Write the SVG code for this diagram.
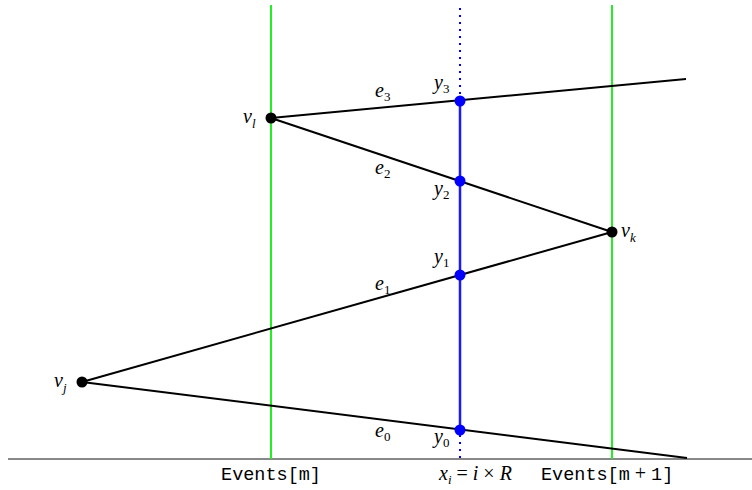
<svg xmlns="http://www.w3.org/2000/svg" width="752" height="490" viewBox="0 0 752 490">
<style>
.m{font-family:"Liberation Serif","DejaVu Serif",serif;font-style:italic;font-size:20px;fill:#000}
.s{font-size:13px;font-style:normal}
.si{font-size:13px;font-style:italic}
.mono{font-family:"Liberation Mono","DejaVu Sans Mono",monospace;font-size:18.5px;fill:#000}
.edge{stroke:#000;stroke-width:2;fill:none}
.ev{stroke:#22ee22;stroke-width:2}
</style>
<rect width="752" height="490" fill="#fff"/>
<g id="axes">
<line x1="8" y1="459" x2="752" y2="459" stroke="#888" stroke-width="2"/>
<line class="ev" x1="271" y1="5" x2="271" y2="459"/>
<line class="ev" x1="612" y1="5" x2="612" y2="459"/>
<line x1="460" y1="8" x2="460" y2="459" stroke="#0000ff" stroke-width="2" stroke-dasharray="2,5"/>
<line x1="460" y1="101" x2="460" y2="430" stroke="#1a1aff" stroke-width="2.5"/>
</g>
<g id="connectors">
<line class="edge" x1="271" y1="118" x2="686" y2="79"/>
<line class="edge" x1="271" y1="118" x2="612" y2="232"/>
<line class="edge" x1="82" y1="382" x2="612" y2="232"/>
<line class="edge" x1="82" y1="382" x2="687" y2="458"/>
</g>
<g id="vl"><circle cx="271" cy="118" r="5.5" fill="#000"/><text class="m" x="243" y="123">v<tspan class="si" dy="5">l</tspan></text></g>
<g id="vk"><circle cx="612" cy="232" r="5.5" fill="#000"/><text class="m" x="621" y="237">v<tspan class="si" dy="5">k</tspan></text></g>
<g id="vj"><circle cx="82" cy="382" r="5.5" fill="#000"/><text class="m" x="54" y="387">v<tspan class="si" dy="5">j</tspan></text></g>
<g id="y3"><circle cx="460" cy="101" r="5.5" fill="#0000ff"/><text class="m" x="434" y="89">y<tspan class="s" dy="4">3</tspan></text></g>
<g id="y2"><circle cx="460" cy="181" r="5.5" fill="#0000ff"/><text class="m" x="434" y="195">y<tspan class="s" dy="4">2</tspan></text></g>
<g id="y1"><circle cx="460" cy="275" r="5.5" fill="#0000ff"/><text class="m" x="434" y="263">y<tspan class="s" dy="4">1</tspan></text></g>
<g id="y0"><circle cx="460" cy="430" r="5.5" fill="#0000ff"/><text class="m" x="434" y="443">y<tspan class="s" dy="4">0</tspan></text></g>
<g id="labels">
<text class="m" x="375" y="97">e<tspan class="s" dy="4">3</tspan></text>
<text class="m" x="375" y="174">e<tspan class="s" dy="4">2</tspan></text>
<text class="m" x="375" y="290">e<tspan class="s" dy="4">1</tspan></text>
<text class="m" x="375" y="437">e<tspan class="s" dy="4">0</tspan></text>
<text class="mono" x="271" y="480" text-anchor="middle">Events[m]</text>
<text class="m" x="439" y="480">x<tspan class="si" dy="4">i</tspan><tspan dy="-4" font-style="normal"> = </tspan>i<tspan font-style="normal"> × </tspan>R</text>
<text class="mono" x="541" y="480">Events[m<tspan dx="5" font-family="Liberation Serif,serif" font-size="20">+</tspan><tspan dx="5">1]</tspan></text>
</g>
</svg>
